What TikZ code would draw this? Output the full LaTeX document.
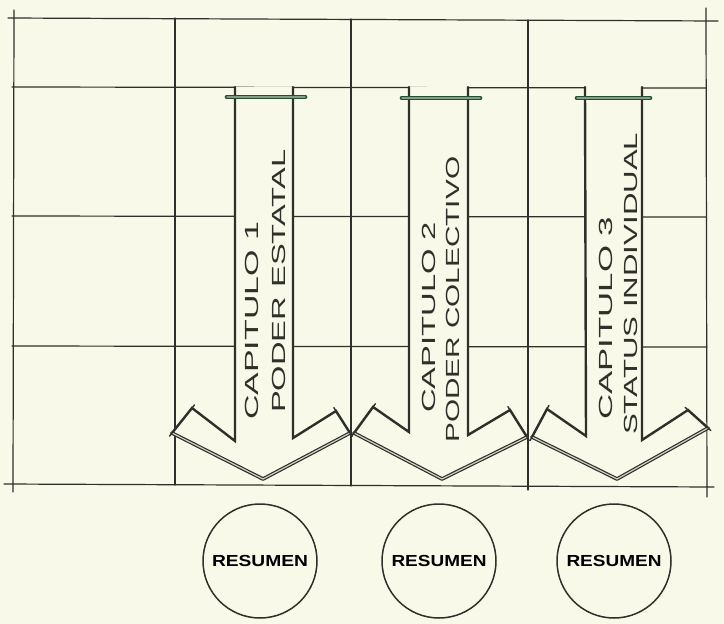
\documentclass[tikz,border=0pt]{standalone}
\usepackage{fontspec}
\setmainfont{Liberation Sans}
\usepackage{graphicx}
\definecolor{paper}{RGB}{249,249,234}
\definecolor{pencil}{RGB}{46,48,42}
\definecolor{inkgreen}{RGB}{36,78,50}
\newcommand{\stretchto}[2]{\resizebox{#1}{\height}{#2}}
\tikzset{
  gridline/.style={pencil,line width=1.2pt},
  arrowline/.style={pencil,line width=2.4pt,line join=miter},
  dblline/.style={pencil,double=paper!80!pencil,double distance=1.2pt,line width=1.2pt},
  crossbar/.style={inkgreen,double=inkgreen!55!paper,double distance=1.5pt,line width=1.6pt},
  tick/.style={pencil,line width=1.4pt,shorten <=-4pt,shorten >=-4pt},
  chaptext/.style={pencil,rotate=90,anchor=west,inner sep=0pt,font=\fontsize{19}{21}\selectfont},
  resumen/.style={circle,draw=pencil,line width=1.5pt,minimum size=114pt,inner sep=0pt,font=\fontsize{16}{18}\selectfont\bfseries}
}
\begin{document}
\begin{tikzpicture}[x=1pt,y=-1pt,line join=round,line cap=round]
\useasboundingbox (0,0) rectangle (724,624);
\fill[paper] (0,0) rectangle (724,624);
% grid
\draw[gridline] (8,18) -- (718,21);
\draw[gridline] (12,87) -- (706,88);
\draw[gridline] (12,216) -- (706,217);
\draw[gridline] (12,346) -- (707,347);
\draw[gridline] (4,484) -- (714,487);
\draw[gridline] (14,10) -- (13,492);
\draw[gridline] (175,18) -- (175,485);
\draw[gridline] (351,19) -- (351,486);
\draw[gridline] (528,20) -- (528,490);
\draw[gridline] (706,8) -- (707,497);
% arrow 1
\filldraw[arrowline,fill=paper] (235,87) -- (235,441) -- (192,408) -- (172,433) -- (263,479) -- (350,433) -- (336,411) -- (293,438) -- (293,87);
\draw[dblline] (172,433) -- (263,479) -- (350,433);
\draw[tick] (192,408) -- (172,433);
\draw[tick] (336,411) -- (350,433);
\draw[crossbar] (227,97) -- (305,97);
% arrow 2
\filldraw[arrowline,fill=paper] (409,87) -- (409,432) -- (373,407) -- (354,433) -- (442,479) -- (527,437) -- (510,410) -- (468,435) -- (468,87);
\draw[dblline] (354,433) -- (442,479) -- (527,437);
\draw[tick] (373,407) -- (354,433);
\draw[tick] (510,410) -- (527,437);
\draw[crossbar] (402,98) -- (480,98);
% arrow 3
\filldraw[arrowline,fill=paper] (585,87) -- (586,436) -- (547,409) -- (532,437) -- (617,479) -- (708,428) -- (688,410) -- (642,440) -- (642,87);
\draw[dblline] (532,437) -- (617,479) -- (708,428);
\draw[tick] (547,409) -- (532,437);
\draw[tick] (688,410) -- (708,428);
\draw[crossbar] (577,98) -- (650,98);
% texts
\node[chaptext] (cap1) at (252,420) {\stretchto{198pt}{CAPITULO 1}};
\node[chaptext] (pod1) at (279,413) {\stretchto{263pt}{PODER ESTATAL}};
\node[chaptext] (cap2) at (429,413) {\stretchto{191pt}{CAPITULO 2}};
\node[chaptext] (pod2) at (453,443) {\stretchto{286pt}{PODER COLECTIVO}};
\node[chaptext] (cap3) at (606,420) {\stretchto{203pt}{CAPITULO 3}};
\node[chaptext] (sta3) at (631,435) {\stretchto{302pt}{STATUS INDIVIDUAL}};
% resumen
\node[resumen] (res1) at (260,561) {\stretchto{96pt}{RESUMEN}};
\node[resumen] (res2) at (439,561) {\stretchto{95pt}{RESUMEN}};
\node[resumen] (res3) at (614,561) {\stretchto{95pt}{RESUMEN}};
\end{tikzpicture}
\end{document}
